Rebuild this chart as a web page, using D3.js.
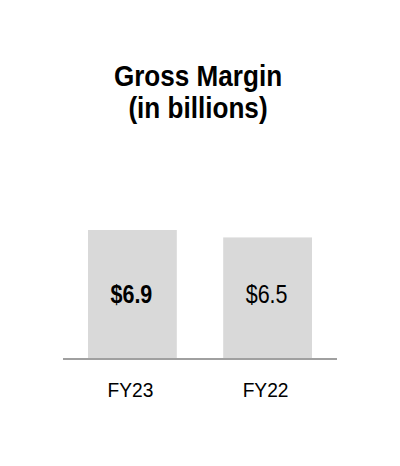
<!DOCTYPE html>
<html><head><meta charset="utf-8">
<script src="https://cdn.jsdelivr.net/npm/d3@7"></script>
<style>body{margin:0;background:#fff}svg{display:block}text{font-family:"Liberation Sans",Arial,sans-serif}</style>
</head><body><svg id="c" width="400" height="466"></svg>
<script>
const categories = ["FY23", "FY22"];
const values = [6.9, 6.5];
const valueLabels = ["$6.9", "$6.5"];
const titleLines = ["Gross Margin", "(in billions)"];

const svg = d3.select("#c");
const base = 358;
const x = d3.scaleBand().domain(categories).range([88, 312]).paddingInner(0.343).paddingOuter(0);
const y = d3.scaleLinear().domain([0, 6.9]).range([base, 230]);

svg.selectAll("rect.bar").data(values).join("rect").attr("class","bar")
  .attr("x",(d,i)=>x(categories[i])).attr("width",x.bandwidth())
  .attr("y",d=>y(d)).attr("height",d=>base-y(d)).attr("fill","#d9d9d9");

svg.append("line").attr("x1",63).attr("x2",337).attr("y1",base+1).attr("y2",base+1)
  .attr("stroke","#a0a0a0").attr("stroke-width",2);

svg.selectAll("text.val").data(valueLabels).join("text").attr("class","val")
  .attr("transform",(d,i)=>`translate(${x(categories[i])+x.bandwidth()/2 - 1},303) scale(0.86,1)`)
  .attr("text-anchor","middle").attr("font-size",25)
  .attr("font-weight",(d,i)=>i===0?"bold":"normal").attr("fill","#000").text(d=>d);

svg.selectAll("text.cat").data(categories).join("text").attr("class","cat")
  .attr("transform",d=>`translate(${x(d)+x.bandwidth()/2 - 2},397) scale(0.96,1)`)
  .attr("text-anchor","middle").attr("font-size",20).attr("fill","#000").text(d=>d);

svg.selectAll("text.title").data(titleLines).join("text").attr("class","title")
  .attr("transform",(d,i)=>`translate(198,${86+i*32}) scale(0.9,1)`)
  .attr("text-anchor","middle").attr("font-size",29).attr("font-weight","bold").attr("fill","#000").text(d=>d);
</script></body></html>
